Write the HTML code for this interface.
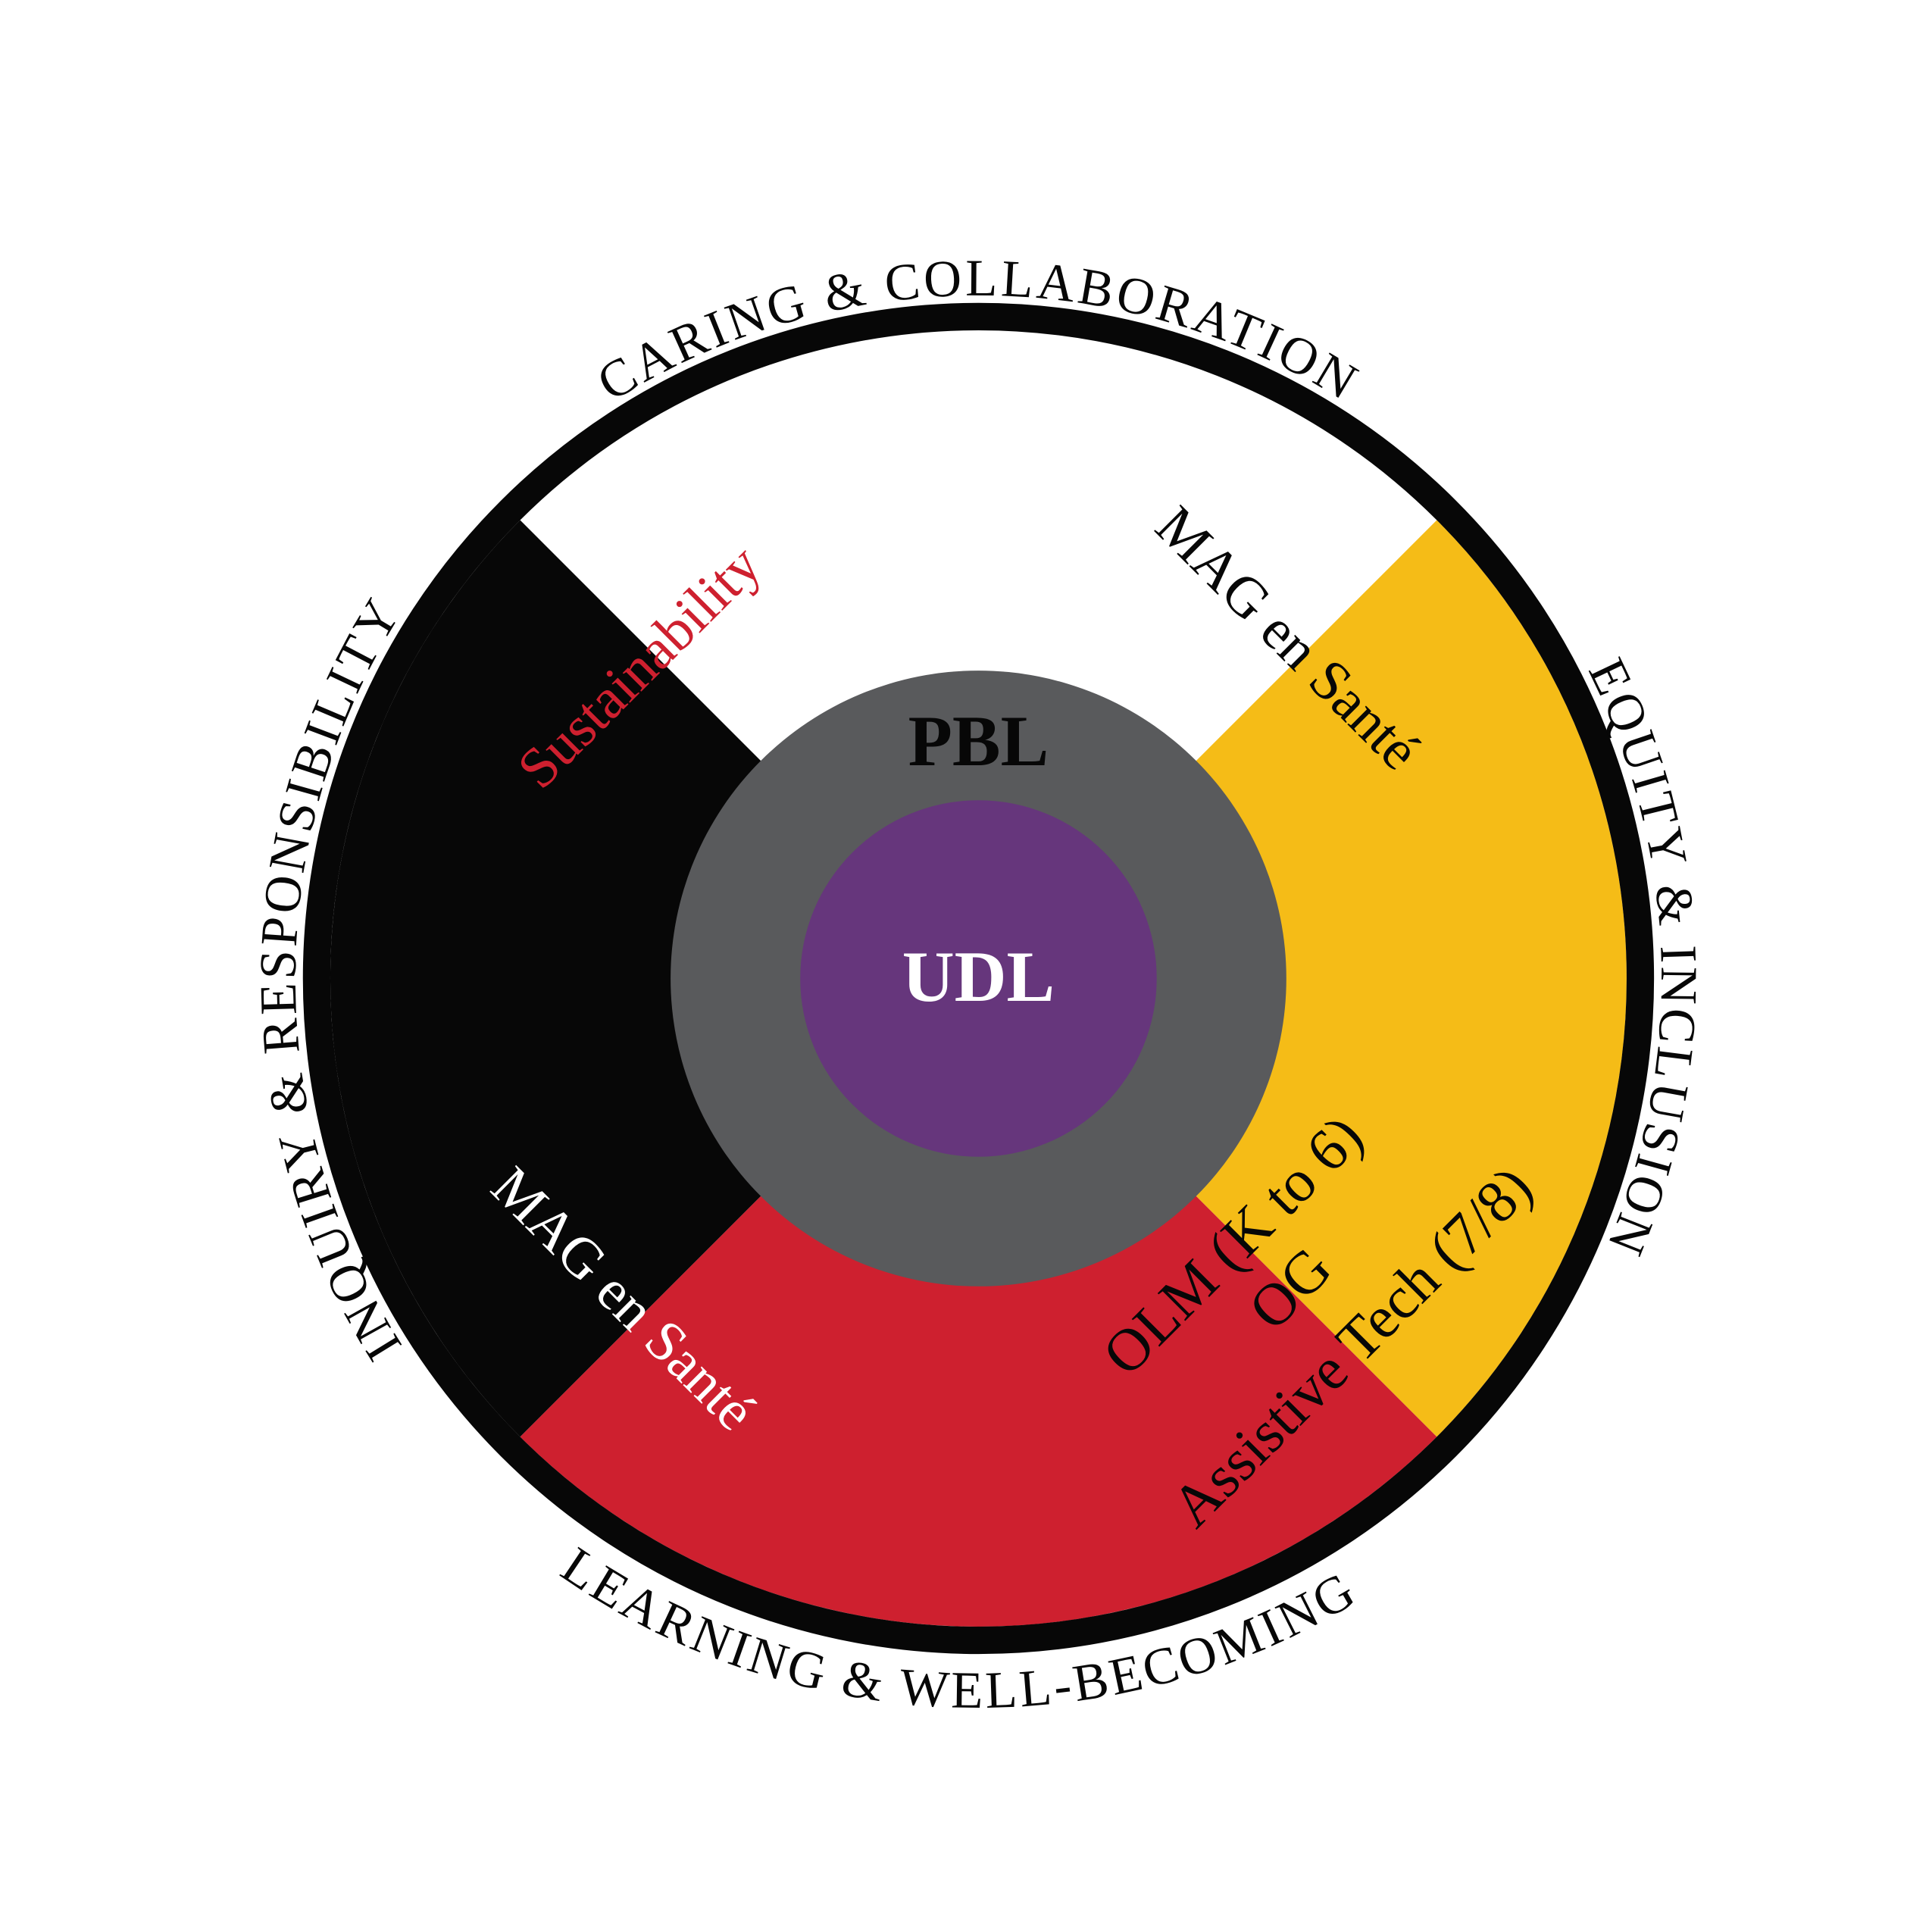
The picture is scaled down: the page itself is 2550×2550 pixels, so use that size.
<!DOCTYPE html>
<html><head><meta charset="utf-8"><style>html,body{margin:0;padding:0;background:#fff}svg{display:block}</style></head>
<body>
<svg width="2550" height="2550" viewBox="0 0 1550 1550" xmlns="http://www.w3.org/2000/svg" font-family="'Liberation Serif', serif">
<defs>
<path id="cw" d="M 785 1333 A 548 548 0 1 1 785 237 A 548 548 0 1 1 785 1333"/>
<path id="ccw" d="M 200 785 A 585 585 0 0 0 1370 785"/>
</defs>
<path d="M785 785 L417.3 417.3 A520 520 0 0 1 1152.7 417.3 Z" fill="#fff"/>
<path d="M785 785 L1152.7 417.3 A520 520 0 0 1 1152.7 1152.7 Z" fill="#F5BC17"/>
<path d="M785 785 L1152.7 1152.7 A520 520 0 0 1 417.3 1152.7 Z" fill="#CE202F"/>
<path d="M785 785 L417.3 1152.7 A520 520 0 0 1 417.3 417.3 Z" fill="#070707"/>
<circle cx="785" cy="785" r="531" fill="none" stroke="#070707" stroke-width="22"/>
<circle cx="785" cy="785" r="247" fill="#595A5C"/>
<circle cx="785" cy="785" r="143" fill="#66367C"/>
<text x="785" y="614" font-size="58" font-weight="bold" text-anchor="middle" fill="#070707">PBL</text>
<text x="785" y="803" font-size="58" font-weight="bold" text-anchor="middle" fill="#fff">UDL</text>
<text transform="translate(513,535) rotate(-45)" font-size="46" text-anchor="middle" fill="#CE202F" dy="15">Sustainability</text>
<text transform="translate(1033,512) rotate(45)" font-size="46" text-anchor="middle" fill="#070707" dy="15">MAG en Santé</text>
<text transform="translate(500,1042) rotate(45)" font-size="46" text-anchor="middle" fill="#fff" dy="15">MAG en Santé</text>
<g transform="translate(1030,1040) rotate(-45)" font-size="48" text-anchor="middle" fill="#070707">
<text x="0" y="-42">OLM (K to 6)</text>
<text x="8" y="15">OG</text>
<text x="10" y="83">Assistive Tech (7/8)</text>
</g>
<g font-size="42" fill="#070707" letter-spacing="2.5">
<text><textPath href="#cw" startOffset="50%" text-anchor="middle">CARING &amp; COLLABORATION</textPath></text>
<text><textPath href="#cw" startOffset="25%" text-anchor="middle">INQUIRY &amp; RESPONSIBILITY</textPath></text>
<text><textPath href="#cw" startOffset="74.5%" text-anchor="middle">EQUITY &amp; INCLUSION</textPath></text>
<text><textPath href="#ccw" startOffset="49%" text-anchor="middle">LEARNING &amp; WELL-BECOMING</textPath></text>
</g>
</svg>
</body></html>
